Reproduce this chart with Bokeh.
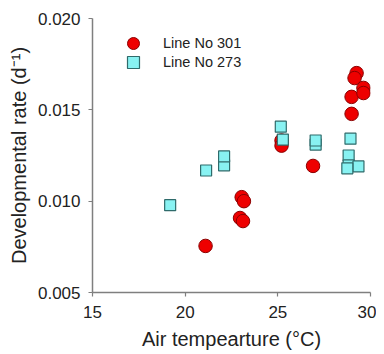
from bokeh.plotting import figure
from bokeh.models import FixedTicker, NumeralTickFormatter, Legend, LegendItem, Range1d
from bokeh.embed import file_html
from bokeh.resources import INLINE

# Data
red_x = [21.1, 22.96, 23.12, 23.05, 23.17, 25.2, 25.2, 26.9, 28.98, 28.98, 29.25, 29.14, 29.62, 29.62]
red_y = [0.00755, 0.00908, 0.00891, 0.01022, 0.0100, 0.01332, 0.01304, 0.01193, 0.01478, 0.01571, 0.01701, 0.01674, 0.0162, 0.01592]
cyan_x = [19.19, 21.13, 22.10, 22.10, 25.16, 25.27, 27.04, 27.04, 28.92, 28.82, 28.82, 29.35, 28.75]
cyan_y = [0.00978, 0.01168, 0.01196, 0.01245, 0.01408, 0.01337, 0.0131, 0.01332, 0.01342, 0.0125, 0.01196, 0.01190, 0.0118]
x_ticks = [15, 20, 25, 30]
y_ticks = [0.005, 0.010, 0.015, 0.020]
label_red = "Line No 301"
label_cyan = "Line No 273"

FONT = "Liberation Sans"

p = figure(width=376, height=352, output_backend="svg", toolbar_location=None,
           x_range=Range1d(15, 30), y_range=Range1d(0.005, 0.020),
           min_border_left=92, min_border_right=6, min_border_top=18, min_border_bottom=58)
p.outline_line_color = None
p.xgrid.visible = False
p.ygrid.visible = False
p.background_fill_color = "white"

r_red = p.scatter(red_x, red_y, marker="circle", size=13.5, fill_color="#ee0000",
                  line_color="#8a0000", line_width=1)
r_cyan = p.scatter(cyan_x, cyan_y, marker="square", size=11, fill_color="#88f2f2",
                   line_color="#2f6b6b", line_width=1.2)

for ax in (p.xaxis[0], p.yaxis[0]):
    ax.axis_line_color = "#7f7f7f"
    ax.axis_line_width = 1.5
    ax.major_tick_line_color = "#7f7f7f"
    ax.major_tick_line_width = 1.2
    ax.major_tick_out = 4
    ax.major_tick_in = 0
    ax.minor_tick_line_color = None
    ax.major_label_text_font = FONT
    ax.major_label_text_font_size = "17px"
    ax.major_label_text_color = "#222222"
    ax.axis_label_text_font = FONT
    ax.axis_label_text_font_size = "20px"
    ax.axis_label_text_font_style = "normal"
    ax.axis_label_text_color = "#222222"

p.xaxis.ticker = FixedTicker(ticks=x_ticks)
p.yaxis.ticker = FixedTicker(ticks=y_ticks)
p.yaxis.formatter = NumeralTickFormatter(format="0.000")
p.xaxis.major_label_standoff = 9
p.yaxis.major_label_standoff = 8
p.xaxis.axis_label = "Air tempearture (\u00b0C)"
p.yaxis.axis_label = "Developmental rate (d\u207b\u00b9)"
p.xaxis.axis_label_standoff = 7
p.yaxis.axis_label_standoff = 5

common = dict(padding=0, spacing=0, glyph_width=30, glyph_height=30, label_standoff=15,
              label_text_font=FONT, label_text_font_size="14.5px",
              label_text_color="#222222", border_line_color=None,
              background_fill_alpha=0, margin=0)
leg1 = Legend(items=[LegendItem(label=label_red, renderers=[r_red])], location=(26, 234), **common)
leg2 = Legend(items=[LegendItem(label=label_cyan, renderers=[r_cyan])], location=(26, 215), **common)
p.add_layout(leg1)
p.add_layout(leg2)

open("out.html", "w").write(file_html(p, INLINE))
